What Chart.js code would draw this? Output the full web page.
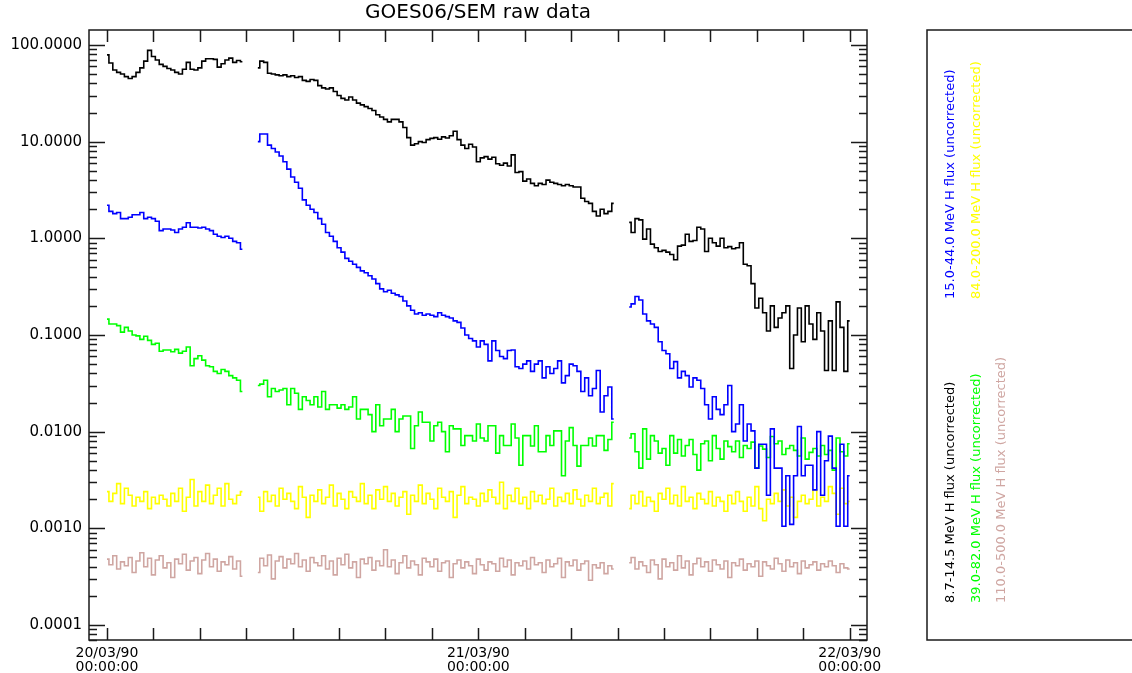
<!DOCTYPE html>
<html>
<head>
<meta charset="utf-8">
<title>GOES06/SEM raw data</title>
<script src="https://cdn.jsdelivr.net/npm/chart.js@4.4.1/dist/chart.umd.min.js"></script>
<style>
  html, body { margin: 0; padding: 0; background: #fff; }
  #wrap { position: relative; width: 1132px; height: 673px; }
</style>
</head>
<body>
<div id="wrap"><canvas id="goesChart"></canvas></div>
<script>
// data gaps: three pieces of 15 min samples, hours after 20/03/90 00:00
const segments = [[0, 8.75], [9.75, 32.75], [33.75, 48]];
const stepHours = 0.25;

const labels = [
  '8.7-14.5 MeV H flux (uncorrected)',
  '15.0-44.0 MeV H flux (uncorrected)',
  '39.0-82.0 MeV H flux (uncorrected)',
  '84.0-200.0 MeV H flux (uncorrected)',
  '110.0-500.0 MeV H flux (uncorrected)'
];
const colors = ['#000000', '#0000ff', '#00ff00', '#ffff00', '#cfa6a2'];

const xMinorHours = [0, 3, 6, 9, 12, 15, 18, 21, 24, 27, 30, 33, 36, 39, 42, 45, 48];
const xTickHours = [0, 24, 48];
const xTickLabels = [['20/03/90', '00:00:00'], ['21/03/90', '00:00:00'], ['22/03/90', '00:00:00']];
const yTickValues = [100, 10, 1, 0.1, 0.01, 0.001, 0.0001];
const yTickLabels = ['100.0000', '10.0000', '1.0000', '0.1000', '0.0100', '0.0010', '0.0001'];

const p1 = [ // 8.7-14.5 MeV
  79, 65, 55, 52, 50, 47, 45, 47, 52, 58, 68, 88, 76, 70, 63, 60, 57, 55,
  52, 50, 56, 66, 56, 55, 58, 68, 72, 72, 71, 59, 64, 70, 73, 66, 69, 67,
  58,
  68, 66, 51, 50, 49, 48, 49, 47, 48, 46, 47, 43, 42, 44, 43, 38,
  36, 35, 36, 33, 30, 28, 27, 29, 27, 25, 24, 23, 22, 21, 19, 18,
  17, 16, 17, 17, 16, 14, 11, 9.2, 9.5, 10, 9.8, 10.5, 10.8, 11, 10.6, 11.2,
  10.9, 11.5, 12.8, 10.5, 9.2, 8.5, 9.4, 8.8, 6.2, 6.8, 7.0, 6.6, 6.9, 5.9, 5.7, 6.0,
  5.6, 7.3, 4.8, 4.9, 3.9, 4.1, 3.7, 3.5, 3.7, 3.6, 4.0, 3.8, 3.7, 3.6, 3.5, 3.6,
  3.5, 3.4, 3.4, 2.6, 2.4, 2.3, 1.9, 1.7, 2.0, 1.8, 1.9, 2.3,
  1.46,
  1.15, 1.6, 1.55, 0.98, 1.25, 0.87, 0.8, 0.73, 0.75, 0.72, 0.68, 0.6,
  0.83, 0.85, 1.1, 0.93, 0.95, 1.3, 1.25, 0.73, 1.0, 0.9, 0.83, 1.0,
  0.8, 0.82, 0.78, 0.8, 0.9, 0.54, 0.52, 0.34, 0.19, 0.24, 0.17, 0.11,
  0.2, 0.12, 0.15, 0.17, 0.2, 0.045, 0.1, 0.19, 0.085, 0.2, 0.13, 0.09,
  0.17, 0.11, 0.043, 0.14, 0.043, 0.22, 0.12, 0.042,
  0.14
];
const p2 = [ // 15.0-44.0 MeV
  2.2, 1.9, 1.8, 1.85, 1.6, 1.6, 1.65, 1.75, 1.75, 1.85, 1.6, 1.65,
  1.6, 1.5, 1.2, 1.25, 1.25, 1.22, 1.15, 1.25, 1.3, 1.45, 1.3, 1.3,
  1.28, 1.3, 1.25, 1.2, 1.1, 1.05, 1.02, 1.05, 1.0, 0.93, 0.9, 0.77,
  10,
  12, 12, 9.2, 8.5, 7.8, 7.1, 6.2, 5.2, 4.3, 3.8, 3.3, 2.5,
  2.2, 2.0, 1.85, 1.6, 1.4, 1.15, 1.05, 0.93, 0.8, 0.72, 0.62, 0.58,
  0.54, 0.5, 0.46, 0.44, 0.41, 0.38, 0.34, 0.3, 0.28, 0.29, 0.27, 0.26,
  0.25, 0.225, 0.2, 0.18, 0.165, 0.17, 0.16, 0.165, 0.16, 0.155, 0.17, 0.16,
  0.155, 0.15, 0.14, 0.135, 0.118, 0.1, 0.092, 0.087, 0.075, 0.087, 0.08, 0.054,
  0.087, 0.069, 0.06, 0.057, 0.069, 0.07, 0.047, 0.045, 0.05, 0.054, 0.042, 0.05,
  0.054, 0.036, 0.047, 0.04, 0.045, 0.054, 0.032, 0.038, 0.05, 0.048, 0.042, 0.026,
  0.036, 0.0235, 0.028, 0.043, 0.016, 0.0235, 0.029, 0.0135,
  0.195,
  0.21, 0.25, 0.23, 0.165, 0.14, 0.13, 0.12, 0.085, 0.069, 0.064, 0.045, 0.053,
  0.036, 0.042, 0.038, 0.029, 0.036, 0.034, 0.028, 0.019, 0.0135, 0.023, 0.017, 0.015,
  0.019, 0.03, 0.01, 0.012, 0.019, 0.008, 0.012, 0.0102, 0.0042, 0.0074, 0.0074, 0.0022,
  0.0107, 0.0042, 0.0042, 0.00105, 0.0035, 0.0011, 0.0035, 0.0113, 0.0035, 0.0045, 0.0045, 0.0025,
  0.01, 0.0022, 0.005, 0.009, 0.0042, 0.00105, 0.0074, 0.00105,
  0.0035
];
const p3 = [ // 39.0-82.0 MeV
  0.146, 0.13, 0.13, 0.125, 0.107, 0.12, 0.11, 0.1, 0.098, 0.09, 0.097, 0.088,
  0.08, 0.082, 0.068, 0.07, 0.07, 0.067, 0.071, 0.065, 0.068, 0.075, 0.048, 0.057,
  0.061, 0.055, 0.048, 0.047, 0.042, 0.04, 0.044, 0.042, 0.038, 0.036, 0.034, 0.026,
  0.03,
  0.031, 0.034, 0.023, 0.028, 0.026, 0.027, 0.028, 0.019, 0.028, 0.025, 0.017, 0.023,
  0.021, 0.019, 0.023, 0.018, 0.026, 0.017, 0.019, 0.019, 0.0175, 0.019, 0.017, 0.018,
  0.023, 0.0135, 0.017, 0.017, 0.015, 0.01, 0.019, 0.0115, 0.0135, 0.0135, 0.017, 0.01,
  0.0135, 0.0145, 0.0145, 0.0067, 0.0115, 0.016, 0.0125, 0.0125, 0.008, 0.0115, 0.0125, 0.01,
  0.0062, 0.0115, 0.0107, 0.0107, 0.0072, 0.0091, 0.0091, 0.008, 0.012, 0.0086, 0.008, 0.0115,
  0.0115, 0.006, 0.0091, 0.0072, 0.0072, 0.012, 0.0086, 0.0045, 0.0091, 0.0091, 0.0071, 0.0115,
  0.0062, 0.0062, 0.0091, 0.0072, 0.0102, 0.0102, 0.0035, 0.008, 0.011, 0.0072, 0.0044, 0.0072,
  0.0072, 0.0086, 0.0071, 0.0091, 0.0091, 0.0064, 0.0083, 0.0125,
  0.0086,
  0.0095, 0.0062, 0.0042, 0.0107, 0.0052, 0.0091, 0.008, 0.006, 0.0067, 0.0045, 0.0091, 0.006,
  0.0083, 0.0056, 0.0072, 0.0083, 0.0058, 0.004, 0.0075, 0.008, 0.005, 0.0091, 0.0067, 0.0052,
  0.008, 0.007, 0.0062, 0.008, 0.0054, 0.0072, 0.0067, 0.0078, 0.0042, 0.0071, 0.0066, 0.0054,
  0.0089, 0.0075, 0.008, 0.0058, 0.0067, 0.0072, 0.0064, 0.0056, 0.0086, 0.0052, 0.0061, 0.0067,
  0.0056, 0.0072, 0.0058, 0.0064, 0.004, 0.0086, 0.0062, 0.0056,
  0.0075
];
const p4 = [ // 84.0-200.0 MeV
  0.0024, 0.0019, 0.0023, 0.0029, 0.0018, 0.0026, 0.0022, 0.0017, 0.0021, 0.0019, 0.0024, 0.0016,
  0.0021, 0.0018, 0.0022, 0.0020, 0.0017, 0.0023, 0.0019, 0.0026, 0.0015, 0.0021, 0.0032, 0.0017,
  0.0024, 0.0019, 0.0028, 0.0018, 0.0022, 0.0026, 0.0017, 0.0029, 0.0020, 0.0018, 0.0022, 0.0024,
  0.0021,
  0.0015, 0.0024, 0.0019, 0.0022, 0.0017, 0.0026, 0.0020, 0.0023, 0.0019, 0.0016, 0.0027, 0.0021,
  0.0013, 0.0022, 0.0019, 0.0025, 0.0018, 0.0021, 0.0028, 0.0017, 0.0023, 0.0020, 0.0016, 0.0024,
  0.0021, 0.0019, 0.0029, 0.0018, 0.0022, 0.0016, 0.0025, 0.0020, 0.0027, 0.0019, 0.0023, 0.0017,
  0.0021, 0.0024, 0.0014, 0.0022, 0.0019, 0.0028, 0.0018, 0.0023, 0.0020, 0.0016, 0.0026, 0.0021,
  0.0019, 0.0024, 0.0013, 0.0022, 0.0027, 0.0018, 0.0021, 0.0020, 0.0017, 0.0023, 0.0019, 0.0025,
  0.0021, 0.0018, 0.0030, 0.0016, 0.0022, 0.0019, 0.0026, 0.0018, 0.0021, 0.0016, 0.0024, 0.0019,
  0.0022, 0.0018, 0.0020, 0.0026, 0.0017, 0.0021, 0.0019, 0.0023, 0.0018, 0.0025, 0.0020, 0.0017,
  0.0022, 0.0019, 0.0026, 0.0018, 0.0021, 0.0023, 0.0017, 0.0029,
  0.0016,
  0.0022, 0.0018, 0.0024, 0.0017, 0.0021, 0.0019, 0.0015, 0.0023, 0.0020, 0.0026, 0.0018, 0.0022,
  0.0017, 0.0027, 0.0019, 0.0021, 0.0016, 0.0023, 0.0020, 0.0018, 0.0024, 0.0017, 0.0021, 0.0019,
  0.0015, 0.0022, 0.0018, 0.0024, 0.0019, 0.0015, 0.0021, 0.0017, 0.0027, 0.0016, 0.0012, 0.0020,
  0.0018, 0.0023, 0.0019, 0.0025, 0.0017, 0.0021, 0.0013, 0.0019, 0.0022, 0.0018, 0.0020, 0.0025,
  0.0017, 0.0021, 0.0019, 0.0027, 0.0023, 0.0014, 0.0026, 0.0018,
  0.0019
];
const p5 = [ // 110.0-500.0 MeV
  0.00048, 0.00042, 0.00052, 0.00038, 0.00045, 0.00041, 0.00050, 0.00035, 0.00046, 0.00056, 0.00040, 0.00049,
  0.00033, 0.00047, 0.00052, 0.00039, 0.00044, 0.00031, 0.00048, 0.00043, 0.00054, 0.00037, 0.00046, 0.00050,
  0.00034, 0.00047, 0.00055, 0.00040, 0.00048, 0.00036, 0.00045, 0.00042, 0.00051, 0.00038, 0.00046, 0.00032,
  0.00035,
  0.00049, 0.00041, 0.00053, 0.00030, 0.00046, 0.00051, 0.00039, 0.00048, 0.00043, 0.00055, 0.00040, 0.00047,
  0.00036, 0.00050, 0.00044, 0.00041, 0.00052, 0.00038, 0.00046, 0.00033, 0.00049, 0.00042, 0.00054, 0.00039,
  0.00045, 0.00031, 0.00048, 0.00043, 0.00050, 0.00037, 0.00046, 0.00041, 0.00060, 0.00040, 0.00047, 0.00034,
  0.00044, 0.00052, 0.00039, 0.00046, 0.00042, 0.00033, 0.00049, 0.00045, 0.00040, 0.00048, 0.00036, 0.00044,
  0.00046, 0.00031, 0.00043, 0.00047, 0.00039, 0.00045, 0.00041, 0.00034, 0.00048, 0.00042, 0.00037, 0.00045,
  0.00043, 0.00036, 0.00049, 0.00040, 0.00047, 0.00033, 0.00044, 0.00041, 0.00046, 0.00038, 0.00050, 0.00042,
  0.00044, 0.00035, 0.00047, 0.00040, 0.00043, 0.00049, 0.00031, 0.00045, 0.00041, 0.00047, 0.00037, 0.00043,
  0.00046, 0.00029, 0.00042, 0.00039, 0.00044, 0.00034, 0.00041, 0.00038,
  0.00044,
  0.00050, 0.00038, 0.00045, 0.00041, 0.00035, 0.00047, 0.00042, 0.00030, 0.00048, 0.00040, 0.00044, 0.00037,
  0.00052, 0.00039, 0.00046, 0.00033, 0.00043, 0.00049, 0.00040, 0.00045, 0.00036, 0.00047, 0.00042, 0.00038,
  0.00046, 0.00031, 0.00044, 0.00041, 0.00048, 0.00037, 0.00043, 0.00040, 0.00046, 0.00032, 0.00045, 0.00041,
  0.00038, 0.00049, 0.00043, 0.00036, 0.00047, 0.00040, 0.00044, 0.00034, 0.00046, 0.00039, 0.00042, 0.00045,
  0.00037, 0.00043, 0.00040, 0.00046, 0.00041, 0.00035, 0.00043, 0.00039,
  0.00038
];
const series = [p1, p2, p3, p4, p5];

// pair each value with its sample time, with a null after each piece so the line breaks
function toPoints(values) {
  const pts = [];
  let k = 0;
  for (const [start, end] of segments) {
    for (let t = start; t <= end + 1e-9; t += stepHours) {
      pts.push({x: t, y: values[k++]});
    }
    pts.push({x: end + stepHours / 2, y: null});
  }
  return pts;
}

const axisTicks = {
  id: 'axisTicks',
  afterDatasetsDraw(chart) {
    const {ctx, chartArea: a, scales: {x, y}} = chart;
    ctx.save();
    ctx.strokeStyle = '#1a1a1a';
    ctx.lineWidth = 1.5;
    ctx.strokeRect(a.left, a.top, a.right - a.left, a.bottom - a.top);
    ctx.beginPath();
    xMinorHours.forEach(h => {
      const px = Math.round(x.getPixelForValue(h)) + 0.5;
      ctx.moveTo(px, a.bottom); ctx.lineTo(px, a.bottom - 12);
      ctx.moveTo(px, a.top); ctx.lineTo(px, a.top + 12);
    });
    for (let e = -5; e <= 2; e++) {
      for (let m = 1; m <= 9; m++) {
        const v = m * Math.pow(10, e);
        if (v < y.min || v > y.max) continue;
        const py = Math.round(y.getPixelForValue(v)) + 0.5;
        const len = m === 1 ? 16 : 8;
        ctx.moveTo(a.left, py); ctx.lineTo(a.left + len, py);
        ctx.moveTo(a.right, py); ctx.lineTo(a.right - len, py);
      }
    }
    ctx.stroke();
    ctx.restore();
  }
};

const sideLegend = {
  id: 'sideLegend',
  afterDraw(chart) {
    const ctx = chart.ctx;
    ctx.save();
    ctx.strokeStyle = '#1a1a1a';
    ctx.lineWidth = 1.5;
    ctx.strokeRect(927, 30, 220, 610);
    ctx.font = '13px "DejaVu Sans"';
    ctx.textAlign = 'left';
    ctx.textBaseline = 'middle';
    chart.data.datasets.forEach((ds, i) => {
      const col = Math.floor(i / 2), row = i % 2;
      ctx.save();
      ctx.translate(951 + col * 25.5, row === 0 ? 603 : 299);
      ctx.rotate(-Math.PI / 2);
      ctx.fillStyle = ds.borderColor;
      ctx.fillText(ds.label, 0, 0);
      ctx.restore();
    });
    ctx.restore();
  }
};

Chart.defaults.font.family = '"DejaVu Sans"';
Chart.defaults.color = '#000';

new Chart(document.getElementById('goesChart'), {
  type: 'line',
  data: {
    datasets: series.map((vals, i) => ({
      label: labels[i],
      data: toPoints(vals),
      borderColor: colors[i],
      backgroundColor: colors[i],
      borderWidth: 1.6,
      pointRadius: 0,
      stepped: 'middle',
      spanGaps: false,
      fill: false
    }))
  },
  options: {
    responsive: true,
    maintainAspectRatio: false,
    animation: false,
    layout: {padding: {left: 0, right: 265, top: 0, bottom: 0}},
    plugins: {
      legend: {display: false},
      tooltip: {enabled: false},
      title: {
        display: true,
        text: 'GOES06/SEM raw data',
        fullSize: false,
        color: '#000',
        font: {size: 20, weight: 'normal', lineHeight: 1.2},
        padding: {top: 1, bottom: 5}
      }
    },
    scales: {
      x: {
        type: 'linear',
        min: -1.163,
        max: 49.12,
        grid: {display: false, drawTicks: false},
        border: {display: false},
        afterFit: s => { s.height = 33; },
        afterBuildTicks: s => { s.ticks = xTickHours.map(v => ({value: v})); },
        ticks: {
          autoSkip: false,
          maxRotation: 0,
          padding: 6,
          font: {size: 14, lineHeight: 1},
          callback: (v) => xTickLabels[xTickHours.indexOf(v)]
        }
      },
      y: {
        type: 'logarithmic',
        min: 7.29e-5,
        max: 142.8,
        grid: {display: false, drawTicks: false},
        border: {display: false},
        afterFit: s => { s.width = 89; },
        afterBuildTicks: s => { s.ticks = yTickValues.map(v => ({value: v})); },
        ticks: {
          autoSkip: false,
          padding: 7,
          font: {size: 15},
          callback: (v) => yTickLabels[yTickValues.indexOf(v)]
        }
      }
    }
  },
  plugins: [axisTicks, sideLegend]
});
</script>
</body>
</html>
